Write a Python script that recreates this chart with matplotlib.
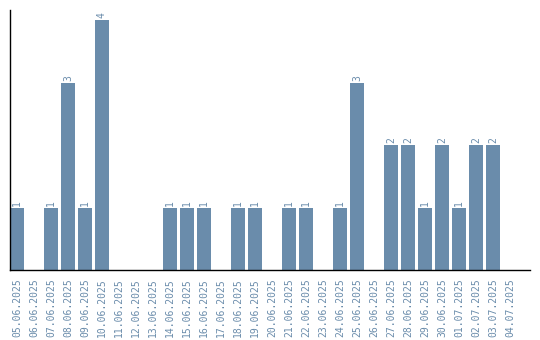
import matplotlib
matplotlib.use("Agg")
import matplotlib.pyplot as plt

dates = ["05.06.2025", "06.06.2025", "07.06.2025", "08.06.2025", "09.06.2025",
         "10.06.2025", "11.06.2025", "12.06.2025", "13.06.2025", "14.06.2025",
         "15.06.2025", "16.06.2025", "17.06.2025", "18.06.2025", "19.06.2025",
         "20.06.2025", "21.06.2025", "22.06.2025", "23.06.2025", "24.06.2025",
         "25.06.2025", "26.06.2025", "27.06.2025", "28.06.2025", "29.06.2025",
         "30.06.2025", "01.07.2025", "02.07.2025", "03.07.2025", "04.07.2025"]
counts = [1, 0, 1, 3, 1, 4, 0, 0, 0, 1, 1, 1, 0, 1, 1, 0, 1, 1, 0, 1,
          3, 0, 2, 2, 1, 2, 1, 2, 2, 0]

bar_color = "#6a8cab"
text_color = "#6a8cab"

fig = plt.figure(figsize=(5.4, 3.4), dpi=100)
ax = fig.add_axes([10 / 540, 70 / 340, 520 / 540, 260 / 340])

x = list(range(len(dates)))
ax.bar(x, counts, width=0.82, color=bar_color)
for xi, v in zip(x, counts):
    if v > 0:
        ax.text(xi, v + 0.03, str(v), rotation=90, ha="center", va="bottom",
                fontsize=7, color=text_color, family="DejaVu Sans Mono")

ax.set_xlim(-0.41, 30.18)
ax.set_ylim(0, 4.16)
ax.set_xticks(x)
ax.set_xticklabels(dates, rotation=90, fontsize=7, color=text_color,
                   family="DejaVu Sans Mono")
ax.tick_params(axis="x", length=0, pad=6)
ax.set_yticks([])
for s in ["top", "right"]:
    ax.spines[s].set_visible(False)
ax.spines["left"].set_color("black")
ax.spines["bottom"].set_color("black")
ax.spines["left"].set_linewidth(1)
ax.spines["bottom"].set_linewidth(1)

fig.savefig("out.png", dpi=100)
